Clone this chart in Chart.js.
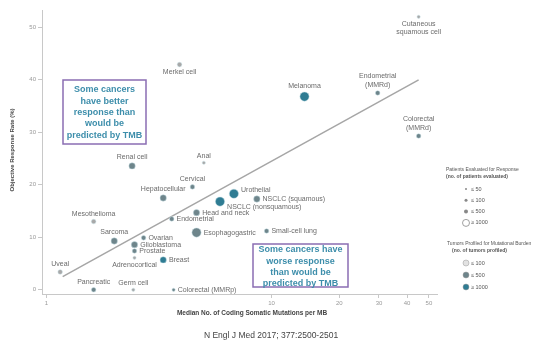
<!DOCTYPE html>
<html>
<head>
<meta charset="utf-8">
<script src="https://cdn.jsdelivr.net/npm/chart.js@4/dist/chart.umd.min.js"></script>
<style>
  body { margin: 0; background: #fff; }
  #wrap { position: relative; width: 541px; height: 347px; }
</style>
</head>
<body>
<div id="wrap"><canvas id="tmbChart" width="541" height="347"></canvas></div>
<script>
// tumor types, median TMB (mutations/MB) and objective response rate (%)
const tumorTypes = [
  'Cutaneous\nsquamous cell', 'Merkel cell', 'Melanoma', 'Endometrial\n(MMRd)', 'Colorectal\n(MMRd)',
  'Renal cell', 'Anal', 'Hepatocellular', 'Cervical', 'Mesothelioma', 'Sarcoma',
  'Urothelial', 'NSCLC (squamous)', 'NSCLC (nonsquamous)', 'Head and neck', 'Endometrial',
  'Esophagogastric', 'Small-cell lung', 'Ovarian', 'Glioblastoma', 'Prostate',
  'Adrenocortical', 'Breast', 'Uveal', 'Pancreatic', 'Germ cell', 'Colorectal (MMRp)'
];
const tmbValues = [
  45.0, 3.9, 14.0, 29.6, 45.0,
  2.4, 5.0, 3.3, 4.45, 1.62, 2.0,
  6.8, 8.6, 5.9, 4.64, 3.6,
  4.64, 9.5, 2.7, 2.46, 2.46,
  2.46, 3.3, 1.15, 1.62, 2.43, 3.67
];
const responseRates = [
  52.0, 42.9, 36.8, 37.5, 29.3,
  23.6, 24.2, 17.5, 19.6, 13.0, 9.3,
  18.3, 17.3, 16.8, 14.7, 13.5,
  10.9, 11.2, 9.9, 8.6, 7.4,
  6.1, 5.7, 3.4, 0, 0, 0
];
// legend categories: patients evaluated (size) and tumors profiled (shade)
const patientGroup = [0, 1, 3, 1, 1, 2, 0, 2, 1, 1, 2, 3, 2, 3, 2, 1, 3, 1, 1, 2, 1, 0, 2, 1, 1, 0, 0];
const profiledGroup = [0, 0, 2, 1, 1, 1, 0, 1, 1, 0, 1, 2, 1, 2, 1, 1, 1, 1, 1, 1, 1, 0, 2, 0, 1, 0, 1];
const labelPlace = ['below', 'below', 'above', 'above', 'above', 'above', 'above', 'above', 'above', 'above', 'above',
  'rightup', 'right', 'rightlow', 'right', 'right', 'right', 'right', 'right', 'right', 'right',
  'below', 'right', 'above', 'above', 'above', 'right'];

const trendX = [1.18, 45];
const trendY = [2.5, 40];

const xTicks = [1, 10, 20, 30, 40, 50];
const yTicks = [0, 10, 20, 30, 40, 50];

const patientLegend = ['\u2264 50', '\u2264 100', '\u2264 500', '\u2265 1000'];
const profiledLegend = ['\u2264 100', '\u2264 500', '\u2265 1000'];

const radii = [1.6, 2.3, 3.2, 4.6];
const shades = ['#a8a8a8', '#6e858b', '#2f7c93'];

const points = tmbValues.map((v, i) => ({ x: v, y: responseRates[i] }));

const labelPlugin = {
  id: 'pointLabels',
  afterDatasetsDraw(chart) {
    const ctx = chart.ctx;
    const meta = chart.getDatasetMeta(1);
    ctx.save();
    ctx.font = '7px "Liberation Sans", Arial, sans-serif';
    ctx.fillStyle = '#6b6b6b';
    ctx.textBaseline = 'middle';
    meta.data.forEach((el, i) => {
      const r = radii[patientGroup[i]];
      const lines = tumorTypes[i].split('\n');
      const place = labelPlace[i];
      if (place.startsWith('right')) {
        const dy = place === 'rightlow' ? 5 : place === 'rightup' ? -4 : 0;
        ctx.textAlign = 'left';
        ctx.fillText(lines[0], el.x + r + 2.5, el.y + dy);
      } else if (place === 'above') {
        ctx.textAlign = 'center';
        lines.forEach((t, k) => {
          ctx.fillText(t, el.x, el.y - r - 5.5 - (lines.length - 1 - k) * 9);
        });
      } else {
        ctx.textAlign = 'center';
        lines.forEach((t, k) => {
          ctx.fillText(t, el.x, el.y + r + 5.5 + k * 8);
        });
      }
    });
    ctx.restore();
  },
  afterDraw(chart) {
    const ctx = chart.ctx;
    ctx.save();
    // annotation boxes
    function box(x1, y1, x2, y2, lines, top) {
      ctx.fillStyle = '#fff';
      ctx.fillRect(x1, y1, x2 - x1, y2 - y1);
      ctx.strokeStyle = '#8a6db3';
      ctx.lineWidth = 1.5;
      ctx.strokeRect(x1, y1, x2 - x1, y2 - y1);
      ctx.fillStyle = '#3d8eab';
      ctx.font = 'bold 9px "Liberation Sans", Arial, sans-serif';
      ctx.textAlign = 'center';
      ctx.textBaseline = 'middle';
      lines.forEach((t, k) => ctx.fillText(t, (x1 + x2) / 2, top + k * 11.3));
    }
    box(63, 80, 146, 144, ['Some cancers', 'have better', 'response than', 'would be', 'predicted by TMB'], 90);
    box(253, 244, 348, 287, ['Some cancers have', 'worse response', 'than would be', 'predicted by TMB'], 250);

    // axis titles
    ctx.fillStyle = '#444';
    ctx.font = 'bold 6px "Liberation Sans", Arial, sans-serif';
    ctx.textAlign = 'center';
    ctx.textBaseline = 'middle';
    ctx.save();
    ctx.translate(12, 150);
    ctx.rotate(-Math.PI / 2);
    ctx.fillText('Objective Response Rate (%)', 0, 0);
    ctx.restore();
    ctx.font = 'bold 6.5px "Liberation Sans", Arial, sans-serif';
    ctx.fillText('Median No. of Coding Somatic Mutations per MB', 252, 313);

    // caption
    ctx.font = '8.5px "Liberation Sans", Arial, sans-serif';
    ctx.fillStyle = '#444';
    ctx.fillText('N Engl J Med 2017; 377:2500-2501', 271, 336);

    // legend
    ctx.textAlign = 'left';
    ctx.fillStyle = '#555';
    ctx.font = '5px "Liberation Sans", Arial, sans-serif';
    ctx.fillText('Patients Evaluated for Response', 446, 170);
    ctx.font = 'bold 5px "Liberation Sans", Arial, sans-serif';
    ctx.fillText('(no. of patients evaluated)', 446, 177);
    const legR = [1, 1.5, 2, 3.5];
    ctx.font = '5.5px "Liberation Sans", Arial, sans-serif';
    patientLegend.forEach((t, k) => {
      const y = 189 + k * 11.3;
      ctx.beginPath();
      ctx.arc(466, y, legR[k], 0, Math.PI * 2);
      if (k === 3) {
        ctx.strokeStyle = '#888';
        ctx.lineWidth = 0.8;
        ctx.stroke();
      } else {
        ctx.fillStyle = '#888';
        ctx.fill();
      }
      ctx.fillStyle = '#555';
      ctx.fillText(t, 471, y);
    });
    ctx.font = '5px "Liberation Sans", Arial, sans-serif';
    ctx.fillText('Tumors Profiled for Mutational Burden', 447, 244);
    ctx.font = 'bold 5px "Liberation Sans", Arial, sans-serif';
    ctx.fillText('(no. of tumors profiled)', 452, 251);
    ctx.font = '5.5px "Liberation Sans", Arial, sans-serif';
    profiledLegend.forEach((t, k) => {
      const y = 263 + k * 12;
      ctx.beginPath();
      ctx.arc(466, y, 3, 0, Math.PI * 2);
      ctx.fillStyle = k === 0 ? '#e2e2e2' : shades[k];
      ctx.fill();
      ctx.strokeStyle = '#999';
      ctx.lineWidth = 0.5;
      ctx.stroke();
      ctx.fillStyle = '#555';
      ctx.fillText(t, 471, y);
    });
    ctx.restore();
  }
};

new Chart(document.getElementById('tmbChart'), {
  type: 'scatter',
  data: {
    datasets: [
      {
        type: 'line',
        data: trendX.map((v, i) => ({ x: v, y: trendY[i] })),
        borderColor: '#a6a6a6',
        borderWidth: 1.5,
        pointRadius: 0,
        order: 2
      },
      {
        data: points,
        pointRadius: patientGroup.map(g => radii[g]),
        backgroundColor: profiledGroup.map(g => shades[g]),
        borderColor: 'rgba(200,225,232,0.6)',
        borderWidth: 0.8,
        order: 1
      }
    ]
  },
  options: {
    responsive: false,
    devicePixelRatio: 1,
    animation: false,
    layout: { padding: { left: 0, top: 10, right: 104, bottom: 39 } },
    plugins: {
      legend: { display: false },
      tooltip: { enabled: false }
    },
    scales: {
      x: {
        type: 'logarithmic',
        min: 0.955,
        max: 54.3,
        afterBuildTicks: s => { s.ticks = xTicks.map(v => ({ value: v })); },
        afterFit: s => { s.height = 14; },
        ticks: { color: '#999', font: { size: 6 }, padding: 2, callback: v => String(v), autoSkip: false, maxRotation: 0 },
        grid: { drawOnChartArea: false, tickLength: 4, color: '#c8c8c8' },
        border: { color: '#c8c8c8' }
      },
      y: {
        min: -0.8,
        max: 53.3,
        afterBuildTicks: s => { s.ticks = yTicks.map(v => ({ value: v })); },
        afterFit: s => { s.width = 42; },
        ticks: { color: '#999', font: { size: 6 }, padding: 2 },
        grid: { drawOnChartArea: false, tickLength: 4, color: '#c8c8c8' },
        border: { color: '#c8c8c8' }
      }
    }
  },
  plugins: [labelPlugin]
});
</script>
</body>
</html>
